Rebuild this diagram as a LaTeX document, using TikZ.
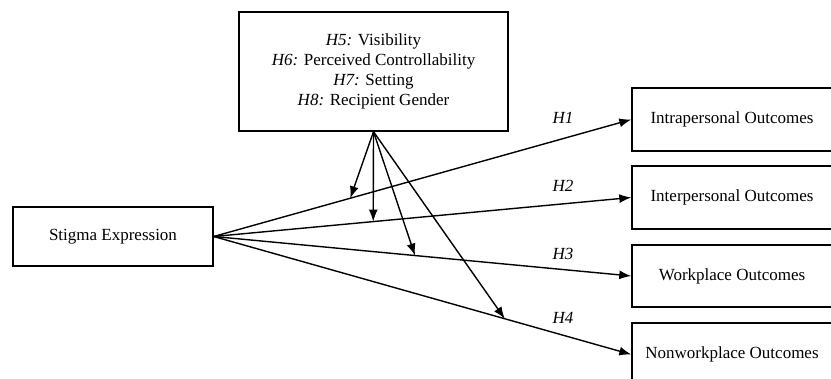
\documentclass[tikz,border=0pt]{standalone}
\usepackage{fontspec}
\setmainfont{Liberation Serif}
\usetikzlibrary{positioning, arrows.meta, calc}

\tikzset{
    box/.style={draw, line width=1.4pt, minimum width=200pt, minimum height=62pt, inner sep=0pt, font=\fontsize{17}{20}\selectfont},
    arr/.style={line width=1.4pt, -{Latex[length=12pt,width=9pt]}},
    hyp/.style={font=\fontsize{17}{20}\selectfont\itshape}
}

\begin{document}
\begin{tikzpicture}[x=1pt, y=-1pt]
    \useasboundingbox (0,0) rectangle (831,379);

    % Moderatori
    \node[box, minimum width=269pt, minimum height=119pt, align=center] (mod) at (373.5,71.5)
        {\textit{H5:} Visibility\\ \textit{H6:} Perceived Controllability\\ \textit{H7:} Setting\\ \textit{H8:} Recipient Gender};

    % Predittore
    \node[box, minimum height=59pt] (stigma) at (113,236.5) {Stigma Expression};

    % Esiti
    \node[box, minimum height=63pt] (intra) at (732,119.5) {Intrapersonal Outcomes};
    \node[box, minimum height=63pt] (inter) at (732,197.5) {Interpersonal Outcomes};
    \node[box, minimum height=62pt] (work) at (732,276) {Workplace Outcomes};
    \node[box, minimum height=63pt] (nonwork) at (732,354.5) {Nonworkplace Outcomes};

    % Effetti diretti
    \draw[arr] (stigma.east) -- (intra.west);
    \draw[arr] (stigma.east) -- (inter.west);
    \draw[arr] (stigma.east) -- (work.west);
    \draw[arr] (stigma.east) -- (nonwork.west);

    \node[hyp] (h1) at (563,118) {H1};
    \node[hyp] (h2) at (563,186) {H2};
    \node[hyp] (h3) at (563,254) {H3};
    \node[hyp] (h4) at (563,318) {H4};

    % Effetti di moderazione
    \coordinate (m1) at ($(stigma.east)!0.327!(intra.west)$);
    \coordinate (m2) at ($(stigma.east)!0.382!(inter.west)$);
    \coordinate (m3) at ($(stigma.east)!0.482!(work.west)$);
    \coordinate (m4) at ($(stigma.east)!0.697!(nonwork.west)$);
    \foreach \m in {m1, m2, m3, m4} {
        \draw[arr] (mod.south) -- (\m);
    }

\end{tikzpicture}
\end{document}
